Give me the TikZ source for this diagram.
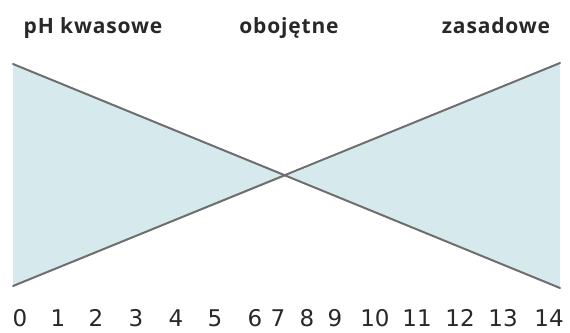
\documentclass[tikz,border=0pt]{standalone}
\usepackage{fontspec}
\setmainfont{Open Sans}
\newfontfamily\numfont{DejaVu Sans}
\definecolor{fillblue}{RGB}{214,234,238}
\definecolor{linegray}{RGB}{110,110,110}
\definecolor{textgray}{RGB}{40,40,40}
\begin{document}
\begin{tikzpicture}[x=1pt,y=-1pt,
  head/.style={font=\fontsize{21}{22}\selectfont\bfseries, text=textgray, inner sep=0pt, anchor=base},
  num/.style={font=\numfont\fontsize{23}{24}\selectfont, text=textgray, inner sep=0pt, anchor=base},
  edge/.style={draw=linegray, line width=2pt, line cap=round}]
\useasboundingbox (0,0) rectangle (570,332);
\coordinate (tl) at (13,64);
\coordinate (bl) at (13,286);
\coordinate (tr) at (560,63);
\coordinate (br) at (560,288);
\coordinate (c) at (288,175.5);
\fill[fillblue] (tl) -- (c) -- (bl) -- cycle;
\fill[fillblue] (tr) -- (c) -- (br) -- cycle;
\draw[edge] (tl) -- (br);
\draw[edge] (bl) -- (tr);
\node[head] (h1) at (93,33) {\addfontfeature{LetterSpace=4}pH kwasowe};
\node[head] (h2) at (289,33) {\addfontfeature{LetterSpace=4}obojętne};
\node[head] (h3) at (496,33) {\addfontfeature{LetterSpace=4}zasadowe};
\foreach \n/\x in {0/20,1/58,2/96,3/136,4/176,5/215,6/255,7/278,8/307,9/335,10/375,11/417,12/460,13/503,14/549}
  \node[num] (n\n) at (\x,326) {\n};
\end{tikzpicture}
\end{document}
